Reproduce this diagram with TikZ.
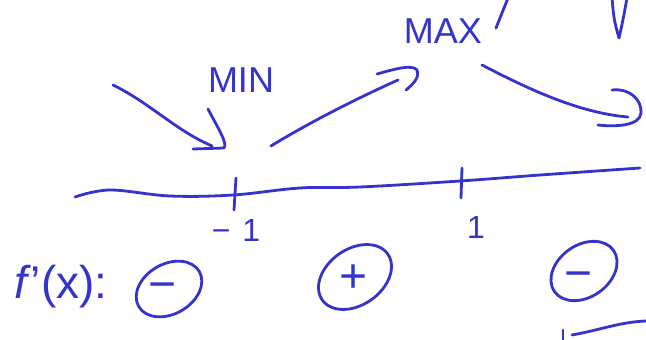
\documentclass[tikz,border=0pt]{standalone}
\usepackage{fontspec}
\setmainfont{Liberation Sans}
\definecolor{ink}{RGB}{52,52,204}
\begin{document}
\begin{tikzpicture}[x=1pt,y=-1pt,
  stroke/.style={draw=ink,line width=2.8pt,line cap=round,line join=round},
  lbl/.style={text=ink,inner sep=0pt,anchor=base},
  bigword/.style={lbl,font=\fontsize{36}{36}\selectfont},
  numlbl/.style={lbl,font=\fontsize{32}{32}\selectfont},
  sign/.style={lbl,font=\fontsize{48}{48}\selectfont}]
\useasboundingbox (0,0) rectangle (646,340);

% number line with the two critical points
\draw[stroke] plot[smooth,tension=0.6] coordinates
  {(75,197) (110,190) (170,196) (233,195) (300,188) (360,187) (460,181) (540,175) (640,168)};
\coordinate (tmt) at (236,178); \coordinate (tmb) at (234,210);
\coordinate (tpt) at (462,168); \coordinate (tpb) at (461,198);
\draw[stroke] (tmt) -- (tmb);
\draw[stroke] (tpt) -- (tpb);
\node[numlbl] (m1) at (236,241) {−\hspace{12pt}1};
\node[numlbl] (p1) at (476,238) {1};

% extremum labels
\node[bigword] (min) at (241,92) {MIN};
\node[bigword] (max) at (443,43) {MAX};

% sign chart of the derivative
\node[lbl,font=\fontsize{46}{46}\selectfont,anchor=base west] (fx) at (14,298) {\textit{f}'(x):};
\node[sign] (s1) at (163,300) {−};
\node[sign] (s2) at (354,292) {+};
\node[sign] (s3) at (579,289) {−};
\draw[stroke,rotate around={30:(169,289)}] (169,289) ellipse (35 and 25);
\draw[stroke,rotate around={35:(355,277)}] (355,277) ellipse (40 and 28);
\draw[stroke,rotate around={35:(584,271)}] (584,271) ellipse (36 and 26);

% monotonicity arrows
\coordinate (a1s) at (113,85);  \coordinate (a1e) at (212,146);
\coordinate (a2s) at (271,146); \coordinate (a2e) at (398,80);
\coordinate (a3s) at (482,65);  \coordinate (a3e) at (628,117);
\draw[stroke] (a1s) .. controls (150,103) and (175,130) .. (a1e);
\draw[stroke] (208,109) .. controls (218,128) and (228,144) .. (224,148) -- (193,149);
\draw[stroke] (a2s) .. controls (310,122) and (360,97) .. (a2e);
\draw[stroke] (377,74) .. controls (395,69) and (412,64) .. (417,70)
  .. controls (420,78) and (412,85) .. (406,90);
\draw[stroke] (a3s) .. controls (530,90) and (580,113) .. (a3e);
\draw[stroke] (612,90) .. controls (630,88) and (642,100) .. (641,113)
  .. controls (640,126) and (615,127) .. (598,125);

% strokes at the edges
\draw[stroke] (612,-2) .. controls (614,20) .. (619,38) .. controls (623,20) .. (627,-2);
\draw[stroke] (508,-2) -- (496,28);
\draw[stroke] (563,330) -- (563,342);
\draw[stroke] (572,335) .. controls (600,330) and (620,322) .. (646,321);
\end{tikzpicture}
\end{document}
